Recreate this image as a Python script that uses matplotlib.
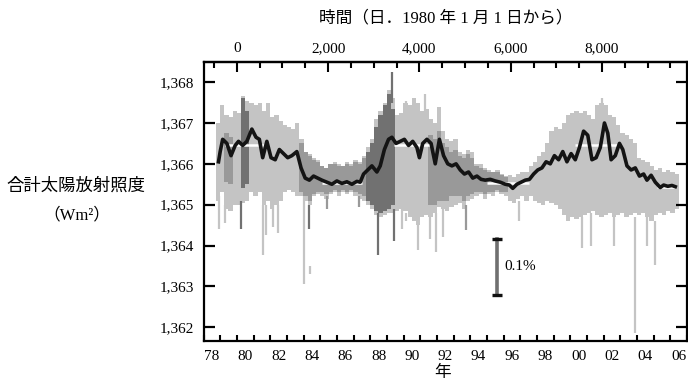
import matplotlib
matplotlib.use("Agg")
import numpy as np
import matplotlib.pyplot as plt
from matplotlib.ticker import FuncFormatter

plt.rcParams["font.family"] = ["Liberation Serif", "Noto Sans CJK JP", "DejaVu Sans"]

# --- values (decimal year, W/m^2) ---

# envelope of the daily data (light grey), quarter-year bins
band_year = [1978.875,
             1979.125, 1979.375, 1979.625, 1979.875,
             1980.125, 1980.375, 1980.625, 1980.875,
             1981.125, 1981.375, 1981.625, 1981.875,
             1982.125, 1982.375, 1982.625, 1982.875,
             1983.125, 1983.375, 1983.625, 1983.875,
             1984.125, 1984.375, 1984.625, 1984.875,
             1985.125, 1985.375, 1985.625, 1985.875,
             1986.125, 1986.375, 1986.625, 1986.875,
             1987.125, 1987.375, 1987.625, 1987.875,
             1988.125, 1988.375, 1988.625, 1988.875,
             1989.125, 1989.375, 1989.625, 1989.875,
             1990.125, 1990.375, 1990.625, 1990.875,
             1991.125, 1991.375, 1991.625, 1991.875,
             1992.125, 1992.375, 1992.625, 1992.875,
             1993.125, 1993.375, 1993.625, 1993.875,
             1994.125, 1994.375, 1994.625, 1994.875,
             1995.125, 1995.375, 1995.625, 1995.875,
             1996.125, 1996.375, 1996.625, 1996.875,
             1997.125, 1997.375, 1997.625, 1997.875,
             1998.125, 1998.375, 1998.625, 1998.875,
             1999.125, 1999.375, 1999.625, 1999.875,
             2000.125, 2000.375, 2000.625, 2000.875,
             2001.125, 2001.375, 2001.625, 2001.875,
             2002.125, 2002.375, 2002.625, 2002.875,
             2003.125, 2003.375, 2003.625, 2003.875,
             2004.125, 2004.375, 2004.625, 2004.875,
             2005.125, 2005.375, 2005.625, 2005.875,
             2006.125, 2006.375]
band_hi = [1367.0,
           1367.45, 1367.2, 1367.15, 1367.3,
           1367.25, 1367.65, 1367.55, 1367.5,
           1367.45, 1367.5, 1367.3, 1367.5,
           1367.15, 1367.2, 1367.05, 1366.95,
           1366.9, 1366.85, 1367.0, 1366.6,
           1366.3, 1366.25, 1366.15, 1366.1,
           1365.95, 1365.9, 1366.0, 1366.05,
           1366.0, 1365.95, 1366.05, 1366.0,
           1366.1, 1366.05, 1366.2, 1366.4,
           1366.6, 1367.1, 1367.3, 1367.5,
           1367.8, 1367.6, 1367.2, 1367.25,
           1367.5, 1367.45, 1367.6, 1367.5,
           1367.3, 1367.35, 1367.1, 1367.0,
           1367.4, 1366.8, 1366.6, 1366.55,
           1366.6, 1366.3, 1366.25, 1366.35,
           1366.3, 1366.0, 1366.0, 1365.9,
           1365.85, 1365.8, 1365.85, 1365.75,
           1365.7, 1365.72, 1365.68, 1365.75,
           1365.8, 1365.8, 1365.95, 1366.05,
           1366.2, 1366.3, 1366.5, 1366.8,
           1366.9, 1366.85, 1367.0, 1367.2,
           1367.25, 1367.3, 1367.25, 1367.3,
           1367.2, 1367.1, 1367.45, 1367.5,
           1367.45, 1367.2, 1367.15, 1366.95,
           1366.75, 1366.7, 1366.6, 1366.5,
           1366.15, 1366.1, 1366.05, 1365.95,
           1365.85, 1365.9, 1365.8, 1365.85,
           1365.8, 1365.75]
band_lo = [1365.1,
           1365.3, 1364.9, 1364.85, 1365.0,
           1365.0, 1365.05, 1365.1, 1365.3,
           1365.2, 1365.3, 1365.0, 1365.1,
           1364.9, 1365.0, 1365.1, 1365.3,
           1365.35, 1365.3, 1365.2, 1365.2,
           1365.1, 1365.0, 1365.2, 1365.25,
           1365.2, 1365.15, 1365.25, 1365.3,
           1365.2, 1365.3, 1365.25, 1365.3,
           1365.2, 1365.15, 1365.1, 1365.0,
           1364.9, 1364.75, 1364.7, 1364.75,
           1364.8, 1364.8, 1364.85, 1364.9,
           1364.85, 1364.7, 1364.6, 1364.5,
           1364.7, 1364.75, 1364.7, 1364.8,
           1364.95, 1364.9, 1364.85, 1364.95,
           1365.0, 1365.05, 1364.9, 1365.1,
           1365.15, 1365.2, 1365.25, 1365.15,
           1365.25, 1365.2, 1365.3, 1365.25,
           1365.2, 1365.1, 1365.05, 1365.15,
           1365.2, 1365.1, 1365.2, 1365.1,
           1365.05, 1365.0, 1365.1, 1365.05,
           1365.0, 1364.9, 1364.75, 1364.6,
           1364.7, 1364.65, 1364.7, 1364.75,
           1364.8, 1364.85, 1364.75, 1364.7,
           1364.75, 1364.8, 1364.7, 1364.75,
           1364.8, 1364.7, 1364.75, 1364.8,
           1364.75, 1364.8, 1364.7, 1364.6,
           1364.75, 1364.8, 1364.75, 1364.85,
           1364.8, 1364.9]

# darker instrument records drawn over the light band
over_year = [1979.375, 1979.625, 1980.375, 1980.625,
             1983.875, 1984.125, 1984.375, 1984.625, 1984.875,
             1985.125, 1985.375, 1985.625, 1985.875,
             1986.125, 1986.375, 1986.625, 1986.875,
             1987.125, 1987.375, 1987.625,
             1987.875, 1988.125, 1988.375, 1988.625, 1988.875,
             1989.125, 1989.375,
             1991.625, 1991.875, 1992.125, 1992.375, 1992.625, 1992.875,
             1993.125, 1993.375, 1993.625, 1993.875,
             1994.125, 1994.375, 1994.625, 1994.875,
             1995.125, 1995.375, 1995.625, 1995.875, 1996.125]
over_hi = [1366.75, 1366.65, 1367.6, 1367.3,
           1366.5, 1366.3, 1366.2, 1366.1, 1366.05,
           1365.95, 1365.9, 1366.0, 1366.0,
           1365.95, 1365.95, 1366.0, 1365.95,
           1366.05, 1366.0, 1366.15,
           1366.3, 1366.5, 1366.9, 1367.2, 1367.45,
           1367.7, 1367.35,
           1366.7, 1366.6, 1366.8, 1366.5, 1366.4, 1366.3,
           1366.35, 1366.2, 1366.15, 1366.25,
           1366.15, 1365.95, 1365.9, 1365.85,
           1365.8, 1365.8, 1365.8, 1365.72, 1365.68]
over_lo = [1365.55, 1365.5, 1365.4, 1365.5,
           1365.3, 1365.2, 1365.1, 1365.25, 1365.3,
           1365.3, 1365.25, 1365.3, 1365.35,
           1365.3, 1365.35, 1365.3, 1365.35,
           1365.3, 1365.25, 1365.2,
           1365.1, 1365.0, 1364.85, 1364.8, 1364.85,
           1364.9, 1365.0,
           1365.0, 1365.0, 1365.1, 1365.1, 1365.1, 1365.2,
           1365.2, 1365.2, 1365.1, 1365.2,
           1365.25, 1365.3, 1365.3, 1365.25,
           1365.3, 1365.3, 1365.35, 1365.3, 1365.3]
over_shade = ["M", "M", "D", "D",
              "M", "M", "M", "M", "M", "M", "M", "M", "M",
              "M", "M", "M", "M", "M", "M", "M",
              "D", "D", "D", "D", "D", "D", "D",
              "M", "M", "M", "M", "M", "M", "M", "M", "M", "M",
              "M", "M", "M", "M", "M", "M", "M", "M", "M"]

# single-day excursions
spike_year = [1978.9, 1979.3, 1980.25, 1981.55, 1981.75, 1982.15, 1982.45,
              1984.05, 1984.35, 1984.38, 1985.4, 1987.3, 1988.45, 1989.45,
              1989.9, 1990.17, 1990.85, 1991.57, 1991.93, 1992.35, 1993.75,
              1996.9, 2000.73, 2001.27, 2002.63, 2003.9, 2004.6, 2005.07,
              1989.3, 1990.17, 1991.27, 2001.93]
spike_from = [1365.2, 1365.0, 1365.1, 1365.0, 1365.0, 1365.0, 1365.0,
              1365.2, 1365.0, 1363.5, 1365.2, 1365.2, 1364.8, 1364.9,
              1364.9, 1364.8, 1364.6, 1364.7, 1364.8, 1364.9, 1365.0,
              1365.1, 1364.7, 1364.8, 1364.7, 1364.7, 1364.7, 1364.6,
              1367.5, 1367.4, 1367.3, 1367.4]
spike_to = [1364.4, 1364.55, 1364.4, 1363.77, 1364.25, 1364.45, 1364.3,
            1363.07, 1364.4, 1363.3, 1364.9, 1364.95, 1363.77, 1364.1,
            1364.4, 1364.6, 1363.9, 1364.15, 1363.85, 1364.2, 1364.38,
            1364.6, 1363.95, 1364.0, 1364.0, 1361.85, 1364.0, 1363.52,
            1368.26, 1367.55, 1367.72, 1367.6]
spike_shade = ["L", "L", "D", "L", "L", "L", "L",
               "L", "D", "L", "M", "M", "D", "D",
               "L", "L", "L", "L", "L", "L", "M",
               "L", "L", "L", "L", "L", "L", "L",
               "D", "L", "L", "L"]

# smoothed composite (black)
smooth_year = [1978.9, 1979.0, 1979.15, 1979.4, 1979.65, 1979.9, 1980.1, 1980.35,
               1980.6, 1980.9, 1981.15, 1981.35, 1981.55, 1981.8, 1982.05, 1982.3,
               1982.55, 1982.8, 1983.05, 1983.3, 1983.6, 1983.85, 1984.1, 1984.35,
               1984.6, 1984.85, 1985.1, 1985.4, 1985.7, 1986.0, 1986.3, 1986.6,
               1986.9, 1987.2, 1987.4, 1987.6, 1987.85, 1988.1, 1988.4, 1988.6,
               1988.85, 1989.1, 1989.3, 1989.55, 1989.8, 1990.05, 1990.3, 1990.55,
               1990.8, 1990.95, 1991.15, 1991.4, 1991.65, 1991.9, 1992.15, 1992.4,
               1992.65, 1992.9, 1993.15, 1993.4, 1993.65, 1993.9, 1994.15, 1994.4,
               1994.65, 1994.9, 1995.2, 1995.5, 1995.8, 1996.1, 1996.35, 1996.55,
               1996.8, 1997.05, 1997.3, 1997.55, 1997.8, 1998.05, 1998.3, 1998.55,
               1998.8, 1999.05, 1999.3, 1999.55, 1999.8, 2000.05, 2000.3, 2000.55,
               2000.8, 2001.05, 2001.3, 2001.55, 2001.8, 2002.05, 2002.25, 2002.45,
               2002.7, 2002.95, 2003.15, 2003.4, 2003.65, 2003.9, 2004.15, 2004.4,
               2004.6, 2004.85, 2005.1, 2005.4, 2005.6, 2005.85, 2006.1, 2006.3]
smooth_tsi = [1366.05, 1366.3, 1366.6, 1366.5, 1366.2, 1366.45, 1366.55, 1366.45,
              1366.55, 1366.85, 1366.65, 1366.6, 1366.15, 1366.55, 1366.15, 1366.1,
              1366.35, 1366.25, 1366.15, 1366.2, 1366.3, 1365.9, 1365.65, 1365.6,
              1365.7, 1365.65, 1365.6, 1365.55, 1365.5, 1365.58, 1365.52, 1365.56,
              1365.5, 1365.57, 1365.55, 1365.75, 1365.85, 1365.95, 1365.8, 1365.95,
              1366.35, 1366.6, 1366.65, 1366.5, 1366.55, 1366.6, 1366.45, 1366.55,
              1366.4, 1366.15, 1366.5, 1366.6, 1366.5, 1366.0, 1366.6, 1366.2,
              1366.0, 1365.95, 1366.0, 1365.85, 1365.75, 1365.8, 1365.65, 1365.7,
              1365.62, 1365.6, 1365.62, 1365.58, 1365.55, 1365.5, 1365.48, 1365.4,
              1365.5, 1365.55, 1365.6, 1365.62, 1365.75, 1365.85, 1365.9, 1366.05,
              1366.0, 1366.2, 1366.1, 1366.3, 1366.05, 1366.25, 1366.1, 1366.4,
              1366.8, 1366.7, 1366.1, 1366.15, 1366.4, 1367.0, 1366.75, 1366.1,
              1366.2, 1366.5, 1366.35, 1365.95, 1365.85, 1365.9, 1365.7, 1365.75,
              1365.6, 1365.72, 1365.55, 1365.42, 1365.48, 1365.45, 1365.47, 1365.44]

# mean levels at maxima / minima (white)
level_start = [1979.3, 1985.1, 1989.4, 1995.0, 2000.3, 2005.2]
level_end = [1981.65, 1987.5, 1991.7, 1997.55, 2002.9, 2006.35]
level_tsi = [1366.47, 1365.53, 1366.46, 1365.54, 1366.46, 1365.44]

# 0.1 % scale bar
bar_year = 1995.63
bar_lo, bar_hi = 1362.8, 1364.17

y_ticks = [1362, 1363, 1364, 1365, 1366, 1367, 1368]
year_ticks = list(range(1978, 2008))
year_label_pos = [1978.5, 1980.5, 1982.5, 1984.5, 1986.5, 1988.5, 1990.5, 1992.5,
                  1994.5, 1996.5, 1998.5, 2000.5, 2002.5, 2004.5, 2006.5]
year_labels = ["78", "80", "82", "84", "86", "88", "90", "92",
               "94", "96", "98", "00", "02", "04", "06"]
day_major = [0, 2000, 4000, 6000, 8000]
day_minor = [-500, 500, 1000, 1500, 2500, 3000, 3500, 4500, 5000, 5500,
             6500, 7000, 7500, 8500, 9000, 9500]

SHADES = {"L": "#c4c4c4", "M": "#999999", "D": "#717171"}

fig = plt.figure(figsize=(6.88, 3.84), dpi=100)
ax = fig.add_axes([0.2958, 0.1128, 0.7027, 0.7265])

ax.bar(band_year, np.array(band_hi) - np.array(band_lo), bottom=band_lo,
       width=0.26, color=SHADES["L"], linewidth=0, zorder=1)
ax.bar(over_year, np.array(over_hi) - np.array(over_lo), bottom=over_lo,
       width=0.26, color=[SHADES[s] for s in over_shade], linewidth=0, zorder=2)
ax.vlines(spike_year, spike_from, spike_to,
          colors=[SHADES[s] for s in spike_shade], linewidth=1.6, zorder=2)
ax.hlines(level_tsi, level_start, level_end, colors="white", linewidth=1.8, zorder=3)
ax.plot(smooth_year, smooth_tsi, color="#141414", linewidth=2.6, zorder=4)

# scale bar
ax.plot([bar_year, bar_year], [bar_lo, bar_hi], color="#707070", linewidth=2.6, zorder=5)
ax.plot([bar_year, bar_year], [bar_lo, bar_hi], linestyle="none", marker="_",
        markersize=7, markeredgewidth=2.4, color="#111111", zorder=6)
ax.text(bar_year + 0.42, (bar_lo + bar_hi) / 2, "0.1%", fontsize=11,
        ha="left", va="center")

ax.set_xlim(1978, 2007)
ax.set_ylim(1361.67, 1368.5)

for side in ax.spines.values():
    side.set_linewidth(1.6)

ax.set_yticks(y_ticks)
ax.yaxis.set_major_formatter(FuncFormatter(lambda v, p: f"{v:,.0f}"))
ax.tick_params(axis="y", which="major", direction="in", length=8, width=1.6,
               labelsize=11, pad=7, right=True)

ax.set_xticks(year_ticks)
ax.set_xticklabels([])
ax.set_xticks(year_label_pos, minor=True)
ax.set_xticklabels(year_labels, minor=True)
ax.tick_params(axis="x", which="major", direction="in", length=4.5, width=1.5)
ax.tick_params(axis="x", which="minor", length=0, labelsize=11, pad=7)

top = ax.secondary_xaxis("top", functions=(lambda y: (y - 1980) * 365.25,
                                           lambda d: d / 365.25 + 1980))
top.set_xticks(day_major)
top.set_xticks(day_minor, minor=True)
top.xaxis.set_major_formatter(FuncFormatter(lambda v, p: f"{v:,.0f}"))
top.tick_params(which="major", direction="in", length=7.5, width=1.5,
                labelsize=11, pad=5)
top.tick_params(which="minor", direction="in", length=4, width=1.5)
top.spines["top"].set_linewidth(1.6)

fig.text(446 / 688, 1 - 18 / 384, "時間（日．1980 年 1 月 1 日から）",
         fontsize=12, ha="center", va="center")
fig.text(443 / 688, 1 - 373 / 384, "年", fontsize=12, ha="center", va="center")
fig.text(76 / 688, 1 - 187 / 384, "合計太陽放射照度", fontsize=12.5,
         ha="center", va="center")
fig.text(77 / 688, 1 - 215 / 384, "（Wm²）", fontsize=12,
         ha="center", va="center")

fig.savefig("out.png", dpi=100)
